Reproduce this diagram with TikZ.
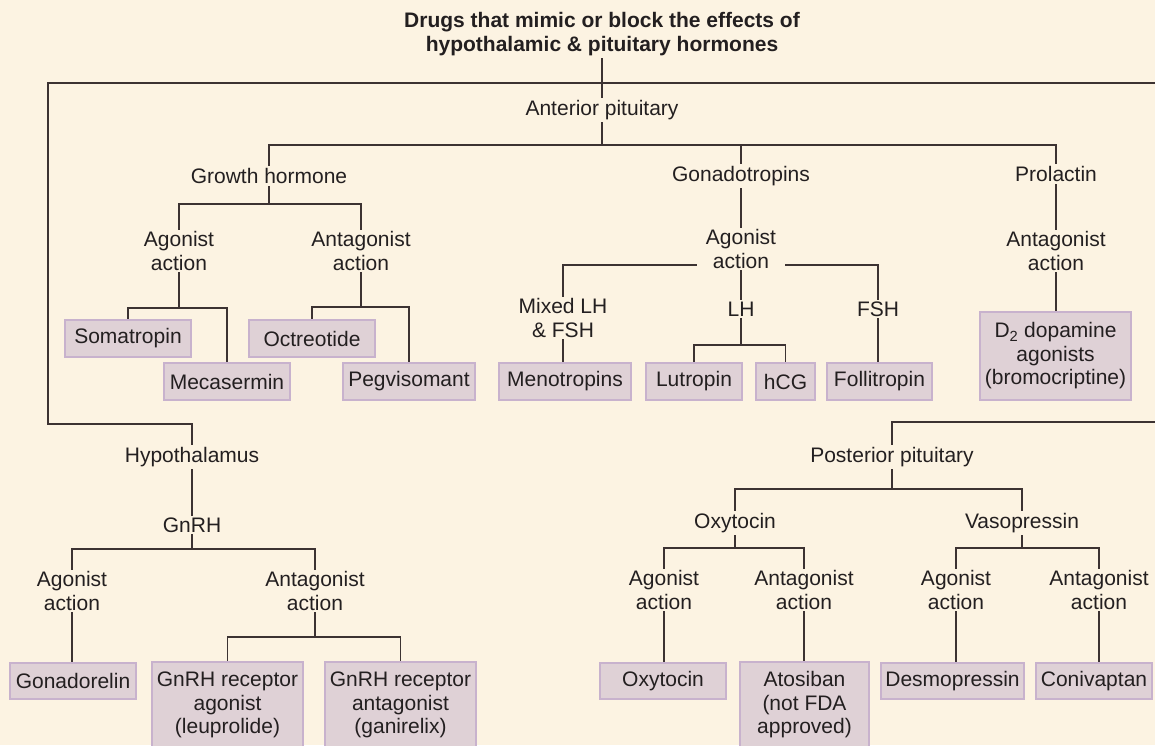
\documentclass[tikz,border=0pt]{standalone}
\usepackage{fontspec}
\setmainfont{Liberation Sans}
\usetikzlibrary{backgrounds}
\definecolor{bgc}{RGB}{252,243,226}
\definecolor{boxfill}{RGB}{223,209,214}
\definecolor{boxline}{RGB}{200,178,205}
\definecolor{linec}{RGB}{60,50,50}
\definecolor{txtc}{RGB}{35,31,32}
\tikzset{
  lbl/.style={fill=bgc, text=txtc, inner xsep=9pt, inner ysep=2pt, align=center, font=\fontsize{21}{23.5}\selectfont},
  ttl/.style={fill=bgc, text=txtc, inner xsep=4pt, inner ysep=2pt, align=center, font=\fontsize{21}{23.5}\selectfont\bfseries},
  drug/.style={draw=boxline, fill=boxfill, text=txtc, line width=1.2pt, inner sep=0pt, align=center, minimum height=37pt, font=\fontsize{21}{23.5}\selectfont},
  conn/.style={draw=linec, line width=1.4pt}
}
\begin{document}
\begin{tikzpicture}[x=1pt,y=-1pt]
\useasboundingbox (0,0) rectangle (1155,745);
% labels
\node[ttl] (title) at (602,34) {Drugs that mimic or block the effects of\\hypothalamic \& pituitary hormones};
\node[lbl] (ant) at (602,110) {Anterior pituitary};
\node[lbl] (gh) at (269,176) {Growth hormone};
\node[lbl] (gon) at (741,176) {Gonadotropins};
\node[lbl] (pro) at (1056,174) {Prolactin};
\node[lbl] (ghag) at (179,251) {Agonist\\action};
\node[lbl] (ghan) at (361,251) {Antagonist\\action};
\node[lbl] (gonag) at (741,249) {Agonist\\action};
\node[lbl] (proan) at (1056,251) {Antagonist\\action};
\node[lbl] (mix) at (563,318) {Mixed LH\\\& FSH};
\node[lbl] (lh) at (741,309) {LH};
\node[lbl] (fsh) at (878,309) {FSH};
\node[lbl] (hypo) at (192,457) {Hypothalamus};
\node[lbl] (gnrh) at (192,525) {GnRH};
\node[lbl] (gag) at (72,591) {Agonist\\action};
\node[lbl] (gan) at (315,591) {Antagonist\\action};
\node[lbl] (post) at (892,457) {Posterior pituitary};
\node[lbl] (oxy) at (735,523) {Oxytocin};
\node[lbl] (vaso) at (1022,523) {Vasopressin};
\node[lbl] (oag) at (664,590) {Agonist\\action};
\node[lbl] (oan) at (804,590) {Antagonist\\action};
\node[lbl] (vag) at (956,590) {Agonist\\action};
\node[lbl] (van) at (1099,590) {Antagonist\\action};
% drug boxes
\node[drug, minimum width=126pt] (soma) at (128,338.5) {Somatropin};
\node[drug, minimum width=126pt] (meca) at (227,381.5) {Mecasermin};
\node[drug, minimum width=126pt] (octr) at (312,338.5) {Octreotide};
\node[drug, minimum width=132pt] (pegv) at (409,381.5) {Pegvisomant};
\node[drug, minimum width=132pt] (meno) at (565,381.5) {Menotropins};
\node[drug, minimum width=96pt] (lutr) at (694,381.5) {Lutropin};
\node[drug, minimum width=59pt] (hcg) at (785.5,381.5) {hCG};
\node[drug, minimum width=105pt] (foll) at (879.5,381.5) {Follitropin};
\node[drug, minimum width=151pt, minimum height=88pt] (dtwo) at (1055.5,356) {D\textsubscript{2} dopamine\\agonists\\(bromocriptine)};
\node[drug, minimum width=126pt, minimum height=36pt] (gona) at (73,681) {Gonadorelin};
\node[drug, minimum width=151pt, minimum height=86pt] (leup) at (227.5,705) {GnRH receptor\\agonist\\(leuprolide)};
\node[drug, minimum width=151pt, minimum height=86pt] (gani) at (400.5,705) {GnRH receptor\\antagonist\\(ganirelix)};
\node[drug, minimum width=126pt, minimum height=36pt] (oxyb) at (663,681) {Oxytocin};
\node[drug, minimum width=129pt, minimum height=86pt] (atos) at (804.5,705) {Atosiban\\(not FDA\\approved)};
\node[drug, minimum width=143pt, minimum height=36pt] (desm) at (952.5,681) {Desmopressin};
\node[drug, minimum width=116pt, minimum height=36pt] (coni) at (1094,681) {Conivaptan};
% helper coordinates
\coordinate (fa) at (48,83);
\coordinate (fb) at (1155,83);
\coordinate (fc) at (48,424);
\coordinate (pr) at (1155,422);
\coordinate (b1) at (0,145);
\coordinate (b2) at (0,204);
\coordinate (b3) at (0,308);
\coordinate (b4) at (0,307);
\coordinate (b5) at (0,265);
\coordinate (b6) at (0,345);
\coordinate (b7) at (0,549);
\coordinate (b8) at (0,637);
\coordinate (b9) at (0,489);
\coordinate (b10) at (0,548);
\begin{pgfonlayer}{background}
\fill[bgc] (0,0) rectangle (1155,745);
% frame
\draw[conn] (title.center) -- (ant.center);
\draw[conn] (fb) -- (fa) -- (fc) -- (fc -| hypo.center) -- (hypo.center);
\draw[conn] (pr) -- (pr -| post.center) -- (post.center);
% anterior pituitary
\draw[conn] (ant.center) -- (ant.center |- b1);
\draw[conn] (gh.center) |- (b1 -| pro.center) -- (pro.center);
\draw[conn] (gon.center) -- (gon.center |- b1);
% growth hormone
\draw[conn] (gh.center) -- (gh.center |- b2);
\draw[conn] (ghag.center) |- (b2 -| ghan.center) -- (ghan.center);
\draw[conn] (ghag.center) -- (ghag.center |- b3);
\draw[conn] (soma.center) |- (b3 -| meca.center) -- (meca.center);
\draw[conn] (ghan.center) -- (ghan.center |- b4);
\draw[conn] (octr.center) |- (b4 -| pegv.center) -- (pegv.center);
% gonadotropins
\draw[conn] (gon.center) -- (gonag.center);
\draw[conn] (mix.center) |- (b5 -| fsh.center) -- (fsh.center);
\draw[conn] (gonag.center) -- (lh.center);
\draw[conn] (mix.center) -- (mix.center |- meno.center);
\draw[conn] (lh.center) -- (lh.center |- b6);
\draw[conn] (lutr.center) |- (b6 -| hcg.center) -- (hcg.center);
\draw[conn] (fsh.center) -- (fsh.center |- foll.center);
% prolactin
\draw[conn] (pro.center) -- (proan.center) -- (proan.center |- dtwo.center);
% hypothalamus
\draw[conn] (hypo.center) -- (gnrh.center);
\draw[conn] (gnrh.center) -- (gnrh.center |- b7);
\draw[conn] (gag.center) |- (b7 -| gan.center) -- (gan.center);
\draw[conn] (gag.center) -- (gag.center |- gona.center);
\draw[conn] (gan.center) -- (gan.center |- b8);
\draw[conn] (leup.center) |- (b8 -| gani.center) -- (gani.center);
% posterior pituitary
\draw[conn] (post.center) -- (post.center |- b9);
\draw[conn] (oxy.center) |- (b9 -| vaso.center) -- (vaso.center);
\draw[conn] (oxy.center) -- (oxy.center |- b10);
\draw[conn] (oag.center) |- (b10 -| oan.center) -- (oan.center);
\draw[conn] (oag.center) -- (oag.center |- oxyb.center);
\draw[conn] (oan.center) -- (oan.center |- atos.center);
\draw[conn] (vaso.center) -- (vaso.center |- b10);
\draw[conn] (vag.center) |- (b10 -| van.center) -- (van.center);
\draw[conn] (vag.center) -- (vag.center |- desm.center);
\draw[conn] (van.center) -- (van.center |- coni.center);
\end{pgfonlayer}
\end{tikzpicture}
\end{document}
